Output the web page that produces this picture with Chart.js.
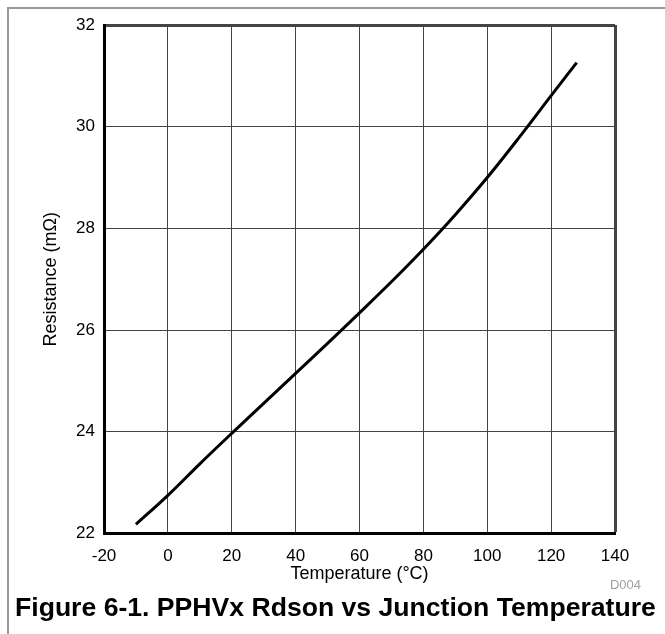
<!DOCTYPE html>
<html>
<head>
<meta charset="utf-8">
<script src="https://cdn.jsdelivr.net/npm/chart.js@4/dist/chart.umd.min.js"></script>
<style>
  html, body { margin: 0; padding: 0; background: #fff; }
  #wrap { position: relative; width: 665px; height: 634px; overflow: hidden; }
  #frame { position: absolute; left: 7px; top: 7px; width: 700px; height: 700px;
           border-left: 2px solid #9a9a9a; border-top: 2px solid #9a9a9a; }
  canvas { position: absolute; left: 0; top: 0; }
</style>
</head>
<body>
<div id="wrap">
  <div id="frame"></div>
  <canvas id="rdsonChart" width="665" height="634"></canvas>
</div>
<script>
// values
const temperature = [-10, 0, 10, 20, 30, 40, 50, 60, 70, 80, 90, 100, 110, 120, 128];
const resistance = [22.18, 22.75, 23.37, 23.97, 24.56, 25.15, 25.74, 26.34, 26.95, 27.59, 28.27, 29.0, 29.79, 30.61, 31.26];

const xMin = -20, xMax = 140, xStep = 20;
const yMin = 22, yMax = 32, yStep = 2;
const figureId = 'D004';

const labelFont = 'Liberation Sans, Arial, sans-serif';

// small grey figure id under the bottom right corner
const figureIdPlugin = {
    id: 'figureId',
    afterDraw(chart) {
        const { ctx, chartArea } = chart;
        ctx.save();
        ctx.font = '13px ' + labelFont;
        ctx.fillStyle = '#a0a0a0';
        ctx.textAlign = 'right';
        ctx.textBaseline = 'middle';
        ctx.fillText(figureId, chartArea.right + 26, chartArea.bottom + 52);
        ctx.restore();
    }
};

document.addEventListener('DOMContentLoaded', function () {
    const ctx = document.getElementById('rdsonChart').getContext('2d');

    const points = temperature.map((t, i) => ({ x: t, y: resistance[i] }));

    new Chart(ctx, {
        type: 'line',
        data: {
            datasets: [{
                data: points,
                borderColor: '#000',
                borderWidth: 3,
                pointRadius: 0,
                fill: false,
                tension: 0.35
            }]
        },
        options: {
            responsive: false,
            animation: false,
            layout: {
                padding: { left: 15, right: 6, top: 25, bottom: 11.7 }
            },
            plugins: {
                legend: { display: false },
                tooltip: { enabled: false },
                title: {
                    display: true,
                    position: 'bottom',
                    align: 'start',
                    text: 'Figure 6-1. PPHVx Rdson vs Junction Temperature',
                    color: '#000',
                    font: { family: labelFont, size: 26.6, weight: 'bold', lineHeight: 1 },
                    padding: { top: 12.2, bottom: 0 }
                }
            },
            scales: {
                x: {
                    type: 'linear',
                    min: xMin,
                    max: xMax,
                    ticks: {
                        stepSize: xStep,
                        color: '#000',
                        padding: 14.5,
                        font: { family: labelFont, size: 17, lineHeight: 1 }
                    },
                    grid: {
                        drawTicks: false,
                        color: '#444',
                        lineWidth: c => (c.tick && c.tick.value === xMax ? 3 : 1)
                    },
                    border: { display: true, color: '#000', width: 3 },
                    title: {
                        display: true,
                        text: 'Temperature (°C)',
                        color: '#000',
                        font: { family: labelFont, size: 18, lineHeight: 1 },
                        padding: { top: -14, bottom: 0 }
                    }
                },
                y: {
                    min: yMin,
                    max: yMax,
                    ticks: {
                        stepSize: yStep,
                        color: '#000',
                        padding: 9,
                        font: { family: labelFont, size: 17 }
                    },
                    grid: {
                        drawTicks: false,
                        color: '#444',
                        lineWidth: c => (c.tick && c.tick.value === yMax ? 3 : 1)
                    },
                    border: { display: true, color: '#000', width: 3 },
                    title: {
                        display: true,
                        text: 'Resistance (mΩ)',
                        color: '#000',
                        font: { family: labelFont, size: 18 },
                        padding: { top: 25, bottom: 0 }
                    },
                    afterFit: function (scale) {
                        scale.width = 89;
                    }
                },
                yRight: {
                    position: 'right',
                    display: true,
                    grid: { display: false },
                    ticks: { display: false },
                    border: { display: false },
                    afterFit: function (scale) {
                        scale.width = 44;
                    }
                }
            }
        },
        plugins: [figureIdPlugin]
    });
});
</script>
</body>
</html>
